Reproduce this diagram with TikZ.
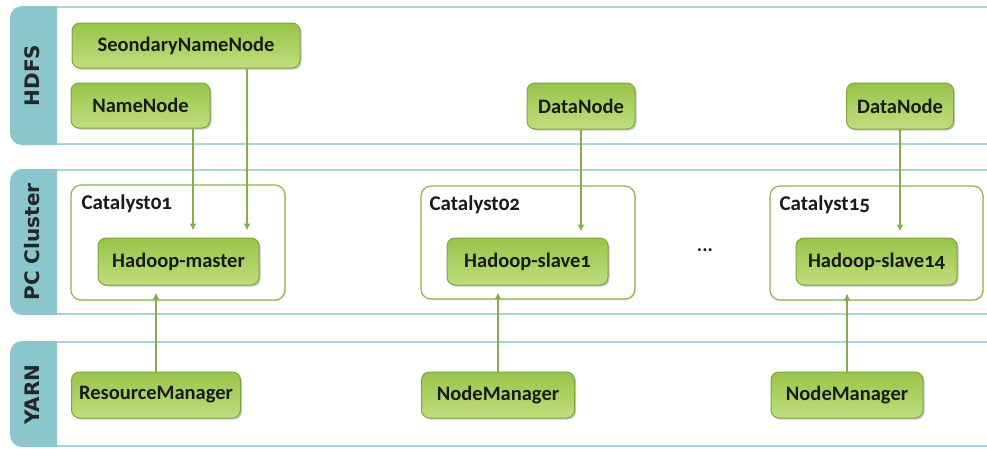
\documentclass[tikz,border=0pt]{standalone}
\usepackage{fontspec}
\setmainfont[Numbers=OldStyle]{Carlito}
\newfontfamily\tabfont{DejaVu Sans}
\usetikzlibrary{shadows,arrows.meta,calc}

\definecolor{tabteal}{HTML}{8CC6CD}
\definecolor{bandrulecol}{HTML}{A8D4DA}
\definecolor{nodetop}{HTML}{98C449}
\definecolor{nodebot}{HTML}{C0DE7E}
\definecolor{nodeedge}{HTML}{7EA63C}
\definecolor{linkgreen}{HTML}{88AE4C}
\definecolor{boxedge}{HTML}{8DB64C}
\definecolor{labeltext}{HTML}{1A1A1A}
\definecolor{tabtextcol}{HTML}{22272A}

\tikzset{
  comp/.style={draw=nodeedge, line width=1pt, rounded corners=8pt,
    top color=nodetop, bottom color=nodebot, minimum height=46pt, inner sep=0pt,
    font=\fontsize{20.5}{24}\selectfont\bfseries, text=labeltext,
    drop shadow={shadow xshift=1.5pt, shadow yshift=-1.5pt, opacity=0.22, fill=black}},
  machine/.style={draw=boxedge, line width=1.2pt, rounded corners=10pt, fill=white,
    inner sep=0pt,
    drop shadow={shadow xshift=1pt, shadow yshift=-1pt, opacity=0.12, fill=black}},
  hostname/.style={anchor=base west, inner sep=0pt,
    font=\fontsize{21}{24}\selectfont\bfseries, text=labeltext},
  link/.style={draw=linkgreen, line width=1.5pt, -{Latex[length=7pt,width=7pt]}},
  bandrule/.style={draw=bandrulecol, line width=1.8pt},
  tabtext/.style={rotate=90, inner sep=0pt, text=tabtextcol,
    font=\tabfont\fontsize{20}{24}\selectfont\bfseries},
}

\begin{document}
\begin{tikzpicture}[x=1pt,y=-1pt]
\useasboundingbox (0,0) rectangle (987,448);
\clip (0,0) rectangle (987,448);

% layer tabs, square on their right side
\begin{scope}
  \clip (0,0) rectangle (57,448);
  \fill[tabteal, rounded corners=12pt] (10,6) rectangle (80,145);
  \fill[tabteal, rounded corners=12pt] (10,169) rectangle (80,315);
  \fill[tabteal, rounded corners=12pt] (10,341) rectangle (80,447);
\end{scope}

% band rules
\draw[bandrule] (57,7) -- (990,7);
\draw[bandrule] (57,144) -- (990,144);
\draw[bandrule] (57,170) -- (990,170);
\draw[bandrule] (57,314) -- (990,314);
\draw[bandrule] (57,342) -- (990,342);
\draw[bandrule] (57,446) -- (990,446);

\node[tabtext] (thdfs) at (32,75.5) {HDFS};
\node[tabtext] (tpc) at (32,242) {PC Cluster};
\node[tabtext] (tyarn) at (32,394.5) {YARN};

% machines
\node[machine, minimum width=214pt, minimum height=115pt] (cat1) at (178,242.5) {};
\node[machine, minimum width=214pt, minimum height=113pt] (cat2) at (528,242.5) {};
\node[machine, minimum width=213pt, minimum height=114pt] (cat3) at (876.5,243) {};
\node[hostname] (lcat1) at ($(cat1.north west)+(11,25)$) {Catalyst01};
\node[hostname] (lcat2) at ($(cat2.north west)+(9,25)$) {Catalyst02};
\node[hostname] (lcat3) at ($(cat3.north west)+(10,25)$) {Catalyst15};

% HDFS daemons
\node[comp, minimum width=228pt, minimum height=45pt] (snn) at (186,45.5) {SeondaryNameNode};
\node[comp, minimum width=139pt, minimum height=45pt] (nn) at (140.5,105.5) {NameNode};
\node[comp, minimum width=108pt] (dn1) at (581,106) {DataNode};
\node[comp, minimum width=107pt] (dn2) at (900,106) {DataNode};

% hosts
\node[comp, minimum width=161pt, minimum height=47pt] (hm) at (178.5,261.5) {Hadoop-master};
\node[comp, minimum width=161pt, minimum height=47pt] (hs1) at (527.5,261.5) {Hadoop-slave1};
\node[comp, minimum width=161pt, minimum height=47pt] (hs14) at (876.5,261.5) {Hadoop-slave14};
\node[inner sep=0pt, font=\fontsize{20}{24}\selectfont\bfseries, text=labeltext] (dots) at (705,250) {...};

% YARN daemons
\node[comp, minimum width=169pt] (rm) at (156,395) {ResourceManager};
\node[comp, minimum width=153pt] (nm1) at (498,395) {NodeManager};
\node[comp, minimum width=152pt] (nm2) at (847,395) {NodeManager};

% connectors
\coordinate (nnx) at (193,0);
\coordinate (snnx) at (247,0);
\draw[link, shorten >=7pt] (nn.south -| nnx) -- (hm.north -| nnx);
\draw[link, shorten >=7pt] (snn.south -| snnx) -- (hm.north -| snnx);
\draw[link, shorten >=6pt] (dn1.south) -- (dn1.south |- hs1.north);
\draw[link, shorten >=6pt] (dn2.south) -- (dn2.south |- hs14.north);
\draw[link, shorten >=7pt] (rm.north) -- (rm.north |- hm.south);
\draw[link, shorten >=7pt] (nm1.north) -- (nm1.north |- hs1.south);
\draw[link, shorten >=8pt] (nm2.north) -- (nm2.north |- hs14.south);
\end{tikzpicture}
\end{document}
